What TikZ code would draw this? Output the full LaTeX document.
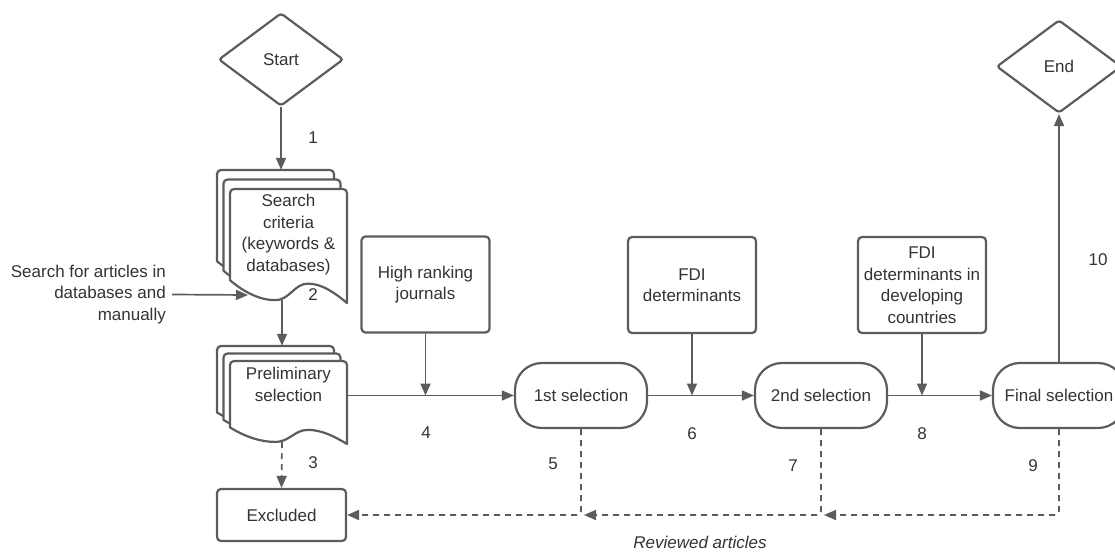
\documentclass[tikz,border=0pt]{standalone}
\usepackage{fontspec}
\setmainfont{Liberation Sans}
\usetikzlibrary{shapes.geometric,arrows.meta,calc}
\definecolor{ln}{RGB}{92,92,92}
\definecolor{tx}{RGB}{51,51,51}
\newcommand\docsheet[3]{%
  \pgfmathsetmacro\dA{#2+0.8*#3}%
  \pgfmathsetmacro\dB{#2+0.975*#3}%
  \pgfmathsetmacro\dC{#2+0.83*#3}%
  \pgfmathsetmacro\dD{#2+#3}%
  \pgfmathsetmacro\dK{#3/114}%
  \filldraw[sheet] (#1,\dA) [rounded corners=4pt] -- (#1,#2) -- (#1+117,#2) -- (#1+117,#2+8) [sharp corners] -- (#1+117,\dD)
    .. controls (#1+105,\dD-10*\dK) and (#1+92,\dC) .. (#1+78,\dC)
    .. controls (#1+64,\dC) and (#1+60,\dB) .. (#1+45,\dB)
    .. controls (#1+30,\dB) and (#1+14,\dA+12*\dK) .. cycle;
}
\begin{document}
\begin{tikzpicture}[x=1pt,y=-1pt,
  font=\fontsize{17}{21.5}\selectfont, text=tx,
  shapeln/.style={draw=ln, line width=2.2pt},
  boxnode/.style={shapeln, rectangle, rounded corners=4pt, minimum width=128pt, minimum height=96pt, align=center, inner sep=2pt},
  stadium/.style={shapeln, rectangle, rounded corners=27pt, minimum width=132pt, minimum height=65pt, align=center, inner sep=2pt},
  decision/.style={shapeln, diamond, rounded corners=3pt, minimum width=125pt, minimum height=93pt, inner sep=0pt},
  sheet/.style={draw=ln, line width=2.2pt, fill=white, line join=round},
  arr/.style={draw=ln, line width=1.7pt, -{Triangle[length=12pt,width=10pt]}},
  darr/.style={arr, dash pattern=on 6pt off 5pt, rounded corners=4pt},
  lbl/.style={inner sep=0pt},
  stackarea/.style={rectangle, minimum width=130pt, inner sep=0pt},
]
\useasboundingbox (0,0) rectangle (1115,553);

% start / end
\node[decision] (start) at (281,59.5) {Start};
\node[decision] (end) at (1059,66.5) {End};

% search criteria stack
\docsheet{217}{170}{114}
\docsheet{223.5}{179.5}{114}
\docsheet{230}{189}{114}
\node[stackarea, minimum height=130pt] (crit) at (282,235) {};
\node[align=center, inner sep=0pt] (crittxt) at (288.5,234.5) {Search\\criteria\\(keywords \&\\databases)};

% preliminary selection stack
\docsheet{217}{346}{83}
\docsheet{223.5}{353.5}{83}
\docsheet{230}{361}{83}
\node[stackarea, minimum height=96pt] (prelim) at (282,394) {};
\node[align=center, inner sep=0pt] (prelimtxt) at (288.5,384.5) {Preliminary\\selection};

% side text
\node[align=right, anchor=east, inner sep=0pt] (side) at (166,294.5) {Search for articles in\\databases and\\manually};
\coordinate (sidetip) at (248,295);

% boxes
\node[boxnode] (hrj) at (425.5,284.5) {High ranking\\journals};
\node[boxnode] (fdi) at (692,285) {FDI\\determinants};
\node[boxnode] (fdidev) at (922,285) {FDI\\determinants in\\developing\\countries};
\node[shapeln, rectangle, rounded corners=4pt, minimum width=129pt, minimum height=52pt] (excl) at (281.5,515) {Excluded};

% selections
\node[stadium] (sel1) at (581,395.5) {1st selection};
\node[stadium] (sel2) at (821,395.5) {2nd selection};
\node[stadium] (final) at (1059,395.5) {Final selection};

% connectors
\draw[arr] (start.south) -- (start.south |- crit.north);
\draw[arr] (crit.south) -- (prelim.north);
\draw[arr] ([xshift=6pt]side.east) -- (sidetip);
\draw[arr, line width=1.1pt] (prelim.east |- sel1.west) -- (sel1.west);
\draw[arr] (hrj.south) -- (hrj.south |- sel1.west);
\draw[arr] (sel1.east) -- (sel2.west);
\draw[arr] (fdi.south) -- (fdi.south |- sel2.west);
\draw[arr] (sel2.east) -- (final.west);
\draw[arr] (fdidev.south) -- (fdidev.south |- final.west);
\draw[arr] (final.north) -- (end.south);

\draw[arr, dash pattern=on 6pt off 5pt] (prelim.south) -- (excl.north);
\draw[darr] (sel1.south) |- (excl.east);
\coordinate (j1) at ($(sel1.south |- excl.east)+(3,0)$);
\draw[darr] (sel2.south) |- (j1);
\coordinate (j2) at ($(sel2.south |- excl.east)+(3,0)$);
\draw[darr] (final.south) |- (j2);

% labels
\node[lbl] (l1) at (313,138) {1};
\node[lbl] (l2) at (313,295) {2};
\node[lbl] (l3) at (313,463) {3};
\node[lbl] (l4) at (426,433) {4};
\node[lbl] (l5) at (553,464) {5};
\node[lbl] (l6) at (692,434) {6};
\node[lbl] (l7) at (793,466) {7};
\node[lbl] (l8) at (922,434) {8};
\node[lbl] (l9) at (1033,466) {9};
\node[lbl] (l10) at (1098,260) {10};
\node[lbl, font=\fontsize{17}{21.5}\selectfont\itshape] (rev) at (700,542) {Reviewed articles};
\end{tikzpicture}
\end{document}
